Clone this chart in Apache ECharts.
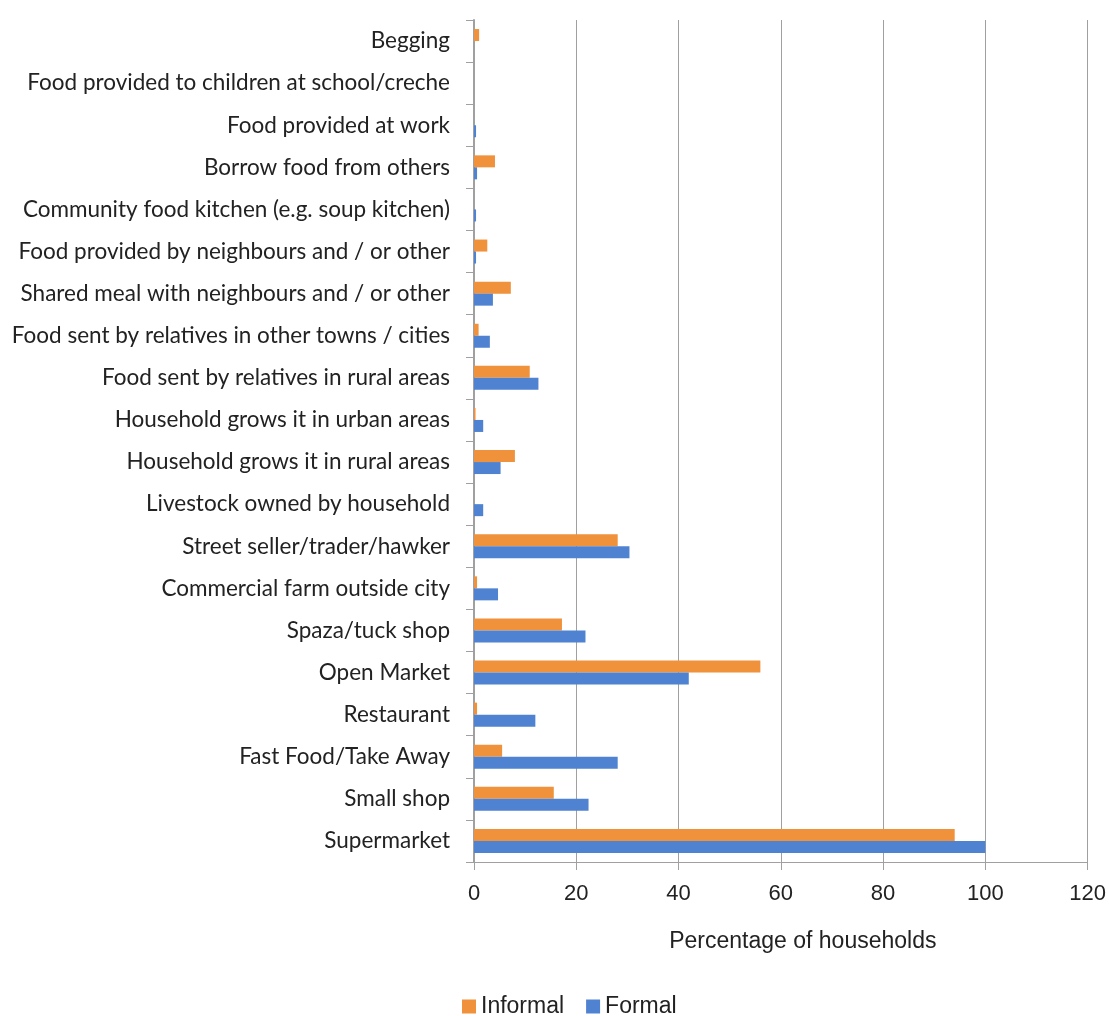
<!DOCTYPE html>
<html>
<head>
<meta charset="utf-8">
<script src="https://cdn.jsdelivr.net/npm/echarts@6/dist/echarts.min.js"></script>
<style>
  html, body { margin: 0; padding: 0; background: #fff; }
  #chart { width: 1109px; height: 1016px; }
</style>
</head>
<body>
<div id="chart"></div>
<script>
// categories bottom-up (ECharts category y axis starts at the bottom)
const categories = [
  'Supermarket',
  'Small shop',
  'Fast Food/Take Away',
  'Restaurant',
  'Open Market',
  'Spaza/tuck shop',
  'Commercial farm outside city',
  'Street seller/trader/hawker',
  'Livestock owned by household',
  'Household grows it in rural areas',
  'Household grows it in urban areas',
  'Food sent by relatives in rural areas',
  'Food sent by relatives in other towns / cities',
  'Shared meal with neighbours and / or other',
  'Food provided by neighbours and / or other',
  'Community food kitchen (e.g. soup kitchen)',
  'Borrow food from others',
  'Food provided at work',
  'Food provided to children at school/creche',
  'Begging'
]
const informal = [94, 15.6, 5.5, 0.6, 56, 17.2, 0.6, 28.1, 0, 8.0, 0.3, 10.9, 0.9, 7.2, 2.6, 0, 4.1, 0, 0, 1.0]
const formal = [100, 22.4, 28.1, 12.0, 42, 21.8, 4.7, 30.4, 1.8, 5.2, 1.8, 12.6, 3.1, 3.7, 0.4, 0.4, 0.6, 0.4, 0, 0]

var myChart = echarts.init(document.getElementById('chart'))

const catFont = 'Lato'
const numFont = 'Liberation Sans'
const option = {
  animation: false,
  grid: { left: 474, right: 19, top: 20, bottom: 154 },
  legend: {
    data: ['Informal', 'Formal'],
    bottom: -2,
    left: 462,
    padding: 0,
    itemWidth: 14,
    itemHeight: 14,
    itemGap: 22,
    icon: 'rect',
    textStyle: { fontSize: 23, color: '#222', fontFamily: numFont }
  },
  xAxis: {
    type: 'value',
    min: 0,
    max: 120,
    interval: 20,
    name: 'Percentage of households',
    nameLocation: 'middle',
    nameGap: 68,
    nameTextStyle: { fontSize: 23, color: '#222', fontFamily: numFont, padding: [0, 0, 0, 44] },
    axisLine: { show: true, lineStyle: { color: '#a0a0a0' } },
    axisTick: { show: true, length: 8, lineStyle: { color: '#a0a0a0' } },
    axisLabel: { fontSize: 22, color: '#222', margin: 21, fontFamily: numFont },
    splitLine: { show: true, lineStyle: { color: '#a0a0a0', width: 1 } }
  },
  yAxis: {
    type: 'category',
    data: categories,
    axisLine: { show: true, lineStyle: { color: '#a0a0a0', width: 2 } },
    axisTick: { show: true, length: 8, lineStyle: { color: '#a0a0a0' } },
    axisLabel: { fontSize: 22.5, color: '#222', margin: 24, interval: 0, fontFamily: catFont }
  },
  series: [
    {
      name: 'Informal',
      type: 'bar',
      data: informal,
      barWidth: 12,
      barGap: '0%',
      itemStyle: { color: '#F0913B' }
    },
    {
      name: 'Formal',
      type: 'bar',
      data: formal,
      barWidth: 12,
      barGap: '0%',
      itemStyle: { color: '#4F83D1' }
    }
  ]
}

myChart.setOption(option)
</script>
</body>
</html>
